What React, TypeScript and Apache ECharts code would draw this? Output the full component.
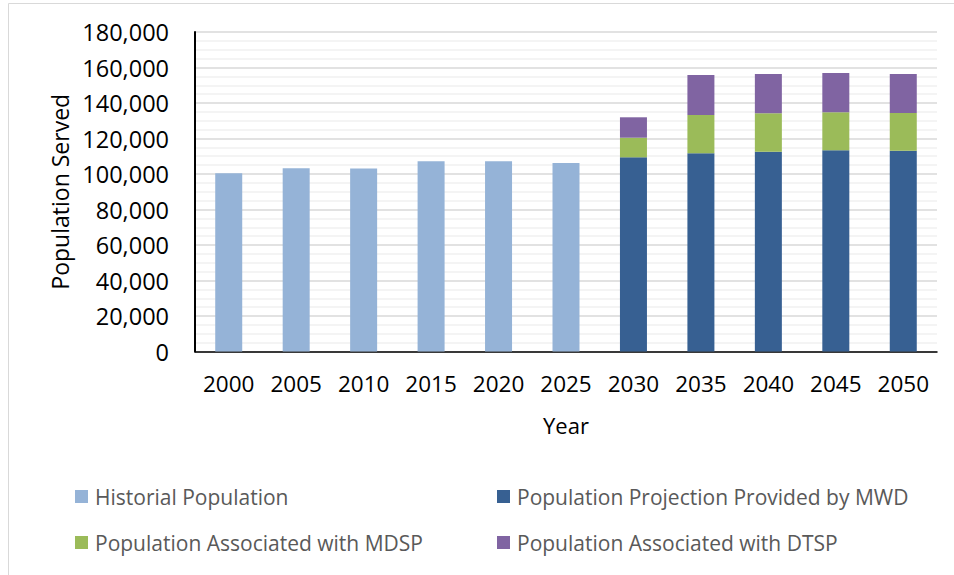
import React, { useEffect, useRef } from "react";
import * as echarts from "echarts";

const years = ["2000", "2005", "2010", "2015", "2020", "2025", "2030", "2035", "2040", "2045", "2050"];
const historical = [100400, 103200, 103100, 107150, 107150, 106200, null, null, null, null, null];
const mwdProjection = [null, null, null, null, null, null, 109400, 111700, 112600, 113350, 113150];
const mdspPopulation = [null, null, null, null, null, null, 11050, 21550, 21600, 21400, 21250];
const dtspPopulation = [null, null, null, null, null, null, 11500, 22550, 22150, 22150, 22000];

const seriesNames = [
  "Historial Population",
  "Population Projection Provided by MWD",
  "Population Associated with MDSP",
  "Population Associated with DTSP",
];
const seriesColors = ["#95b3d7", "#376092", "#9bbb59", "#8064a2"];

const FONT = "'Open Sans', sans-serif";

export default function App() {
  const ref = useRef<HTMLDivElement>(null);

  useEffect(() => {
    if (!ref.current) return;
    const chart = echarts.init(ref.current, null, { renderer: "svg" });
    const seriesData = [historical, mwdProjection, mdspPopulation, dtspPopulation];

    const legendPos = [
      { left: 75, top: 486 },
      { left: 497, top: 486 },
      { left: 75, top: 532 },
      { left: 497, top: 532 },
    ];

    chart.setOption({
      animation: false,
      backgroundColor: "#ffffff",
      graphic: [
        {
          type: "rect",
          shape: { x: 8.5, y: 3.5, width: 1000, height: 1000 },
          style: { fill: "none", stroke: "#d9d9d9", lineWidth: 1 },
          silent: true,
        },
      ],
      legend: seriesNames.map((n, i) => ({
        data: [n],
        left: legendPos[i].left,
        top: legendPos[i].top,
        padding: 0,
        icon: "rect",
        itemWidth: 13,
        itemHeight: 13,
        textStyle: { fontFamily: FONT, fontSize: 21, color: "#595959", padding: [0, 0, 0, 2] },
        selectedMode: false,
      })),
      grid: { left: 195, right: 17, top: 32, bottom: 223.5, containLabel: false },
      xAxis: {
        type: "category",
        data: years,
        name: "Year",
        nameLocation: "middle",
        nameGap: 62,
        nameTextStyle: { fontFamily: FONT, fontSize: 22, color: "#000" },
        axisLine: { show: true, lineStyle: { color: "#000", width: 1.5 } },
        axisTick: { show: false },
        axisLabel: { fontFamily: FONT, fontSize: 22.5, color: "#000", margin: 20 },
      },
      yAxis: {
        type: "value",
        min: 0,
        max: 180000,
        interval: 20000,
        name: "Population Served",
        nameLocation: "middle",
        nameGap: 122,
        nameTextStyle: { fontFamily: FONT, fontSize: 23, color: "#000" },
        axisLine: { show: true, lineStyle: { color: "#000", width: 2 } },
        axisTick: { show: false },
        axisLabel: {
          fontFamily: FONT,
          fontSize: 23.5,
          color: "#000",
          margin: 26,
          formatter: (v: number) => v.toLocaleString("en-US"),
        },
        splitLine: { show: true, lineStyle: { color: "#d9d9d9", width: 1.5 } },
        minorTick: { show: false, splitNumber: 4 },
        minorSplitLine: { show: true, lineStyle: { color: "#f0f0f0", width: 1.5 } },
      },
      series: seriesNames.map((n, i) => ({
        name: n,
        type: "bar",
        stack: "population",
        barWidth: 27,
        data: seriesData[i],
        itemStyle: { color: seriesColors[i] },
      })),
    });

    return () => chart.dispose();
  }, []);

  return (
    <div
      ref={ref}
      style={{ position: "absolute", left: 0, top: 0, width: 954, height: 575 }}
    />
  );
}
